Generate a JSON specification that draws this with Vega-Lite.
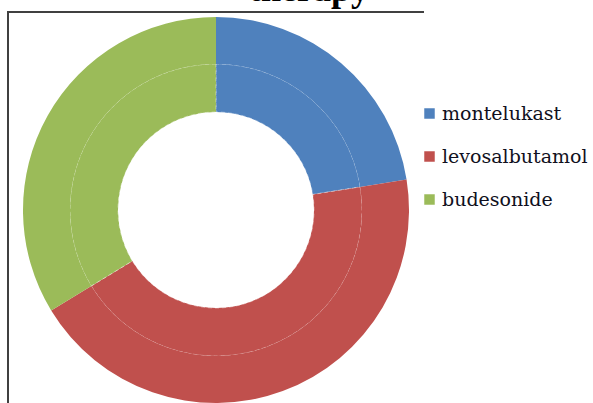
{
  "$schema": "https://vega.github.io/schema/vega-lite/v6.json",
  "width": 416,
  "height": 396,
  "autosize": {"type": "none"},
  "padding": {"left": 8, "top": 12, "right": 169, "bottom": 0},
  "background": "white",
  "title": {
    "text": "therapy",
    "font": "Times New Roman",
    "fontSize": 36,
    "fontWeight": "bold",
    "color": "black",
    "anchor": "middle",
    "dx": 93,
    "offset": 3
  },
  "view": {"stroke": "#404040", "strokeWidth": 2, "strokeDash": [416, 812, 396]},
  "data": {
    "values": [
      {"drug": "montelukast", "count": 20},
      {"drug": "levosalbutamol", "count": 39},
      {"drug": "budesonide", "count": 30}
    ]
  },
  "encoding": {
    "theta": {"field": "count", "type": "quantitative", "stack": true},
    "order": {"field": "drug", "sort": "descending"},
    "color": {
      "field": "drug",
      "type": "nominal",
      "scale": {
        "domain": ["montelukast", "levosalbutamol", "budesonide"],
        "range": ["#4F81BD", "#C0504D", "#9BBB59"]
      },
      "legend": {
        "title": null,
        "orient": "none",
        "legendX": 412,
        "legendY": 92,
        "symbolType": "square",
        "symbolSize": 110,
        "symbolStrokeWidth": 0,
        "labelFont": "DejaVu Serif",
        "labelFontSize": 19,
        "labelColor": "#101020",
        "labelOffset": 3,
        "labelLimit": 250,
        "rowPadding": 23
      }
    }
  },
  "layer": [
    {
      "mark": {
        "type": "arc",
        "innerRadius": 98,
        "outerRadius": 146,
        "stroke": "white",
        "strokeOpacity": 0.4,
        "strokeWidth": 1,
        "strokeDash": [4, 3]
      }
    },
    {
      "mark": {"type": "arc", "innerRadius": 146, "outerRadius": 193}
    }
  ]
}
